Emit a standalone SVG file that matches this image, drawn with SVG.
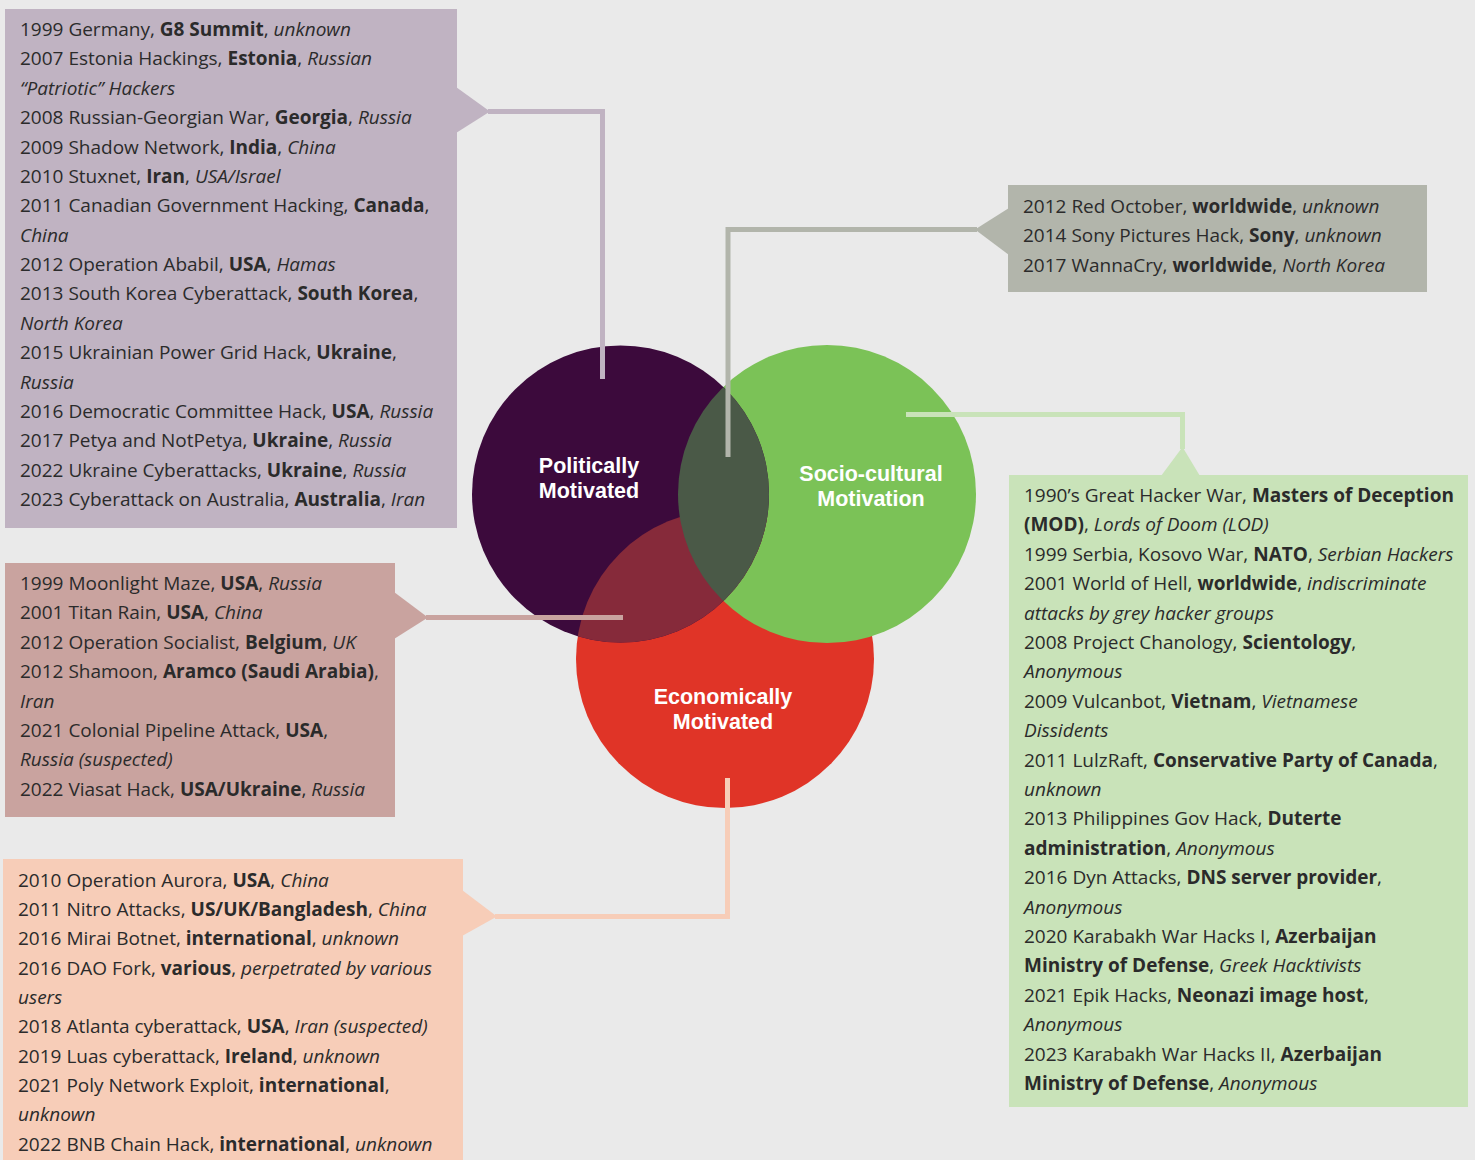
<svg xmlns="http://www.w3.org/2000/svg" width="1475" height="1160" viewBox="0 0 1475 1160">
<style>
  .t{font-family:"Open Sans","Noto Sans","DejaVu Sans",sans-serif;font-size:19px;fill:#2b2b2b}
  .b{font-weight:bold}
  .i{font-style:italic}
  .c{font-family:"Liberation Sans",Arial,sans-serif;font-size:21.5px;font-weight:bold;fill:#ffffff;text-anchor:middle}
  .ln{fill:none;stroke-width:5;stroke-linecap:butt;stroke-linejoin:miter}
</style>
<defs>
  <clipPath id="clipPol"><circle cx="620.5" cy="494" r="148.5"/></clipPath>
</defs>
<rect width="1475" height="1160" fill="#eaeaea"/>

<g id="venn">
  <circle id="econ" cx="725" cy="659" r="149" fill="#e03427"/>
  <circle id="socio" cx="827" cy="494" r="149" fill="#7bc257"/>
  <circle id="pol" cx="620.5" cy="494" r="148.5" fill="#3c0a3c"/>
  <g clip-path="url(#clipPol)">
    <circle cx="725" cy="659" r="149" fill="#862a3a"/>
    <circle cx="827" cy="494" r="149" fill="#4a5947"/>
  </g>
</g>

<g id="connectors">
  <polyline class="ln" stroke="#c0b3c2" points="488,111.5 602.5,111.5 602.5,379"/>
  <polyline class="ln" stroke="#b2b5ab" points="977,229.5 728,229.5 728,457"/>
  <polyline class="ln" stroke="#c9e3b9" points="906,414.5 1182.5,414.5 1182.5,449"/>
  <polyline class="ln" stroke="#c9a39f" points="426,617.5 623,617.5"/>
  <polyline class="ln" stroke="#f7cdb8" points="495,916.5 727.5,916.5 727.5,778"/>
</g>

<g id="circle-labels">
  <text class="c" x="589" y="473">Politically<tspan x="589" dy="25">Motivated</tspan></text>
  <text class="c" x="871" y="481">Socio-cultural<tspan x="871" dy="25">Motivation</tspan></text>
  <text class="c" x="723" y="704">Economically<tspan x="723" dy="25">Motivated</tspan></text>
</g>

<g id="political-box">
  <rect x="5" y="9" width="452" height="519" fill="#c0b3c2"/>
  <polygon points="456,87 490,111.5 456,133" fill="#c0b3c2"/>
  <g class="t">
    <text x="20" y="36">1999 Germany, <tspan class="b">G8 Summit</tspan>, <tspan class="i">unknown</tspan></text>
    <text x="20" y="65.4">2007 Estonia Hackings, <tspan class="b">Estonia</tspan>, <tspan class="i">Russian</tspan></text>
    <text x="20" y="94.8" class="i">“Patriotic” Hackers</text>
    <text x="20" y="124.1">2008 Russian-Georgian War, <tspan class="b">Georgia</tspan>, <tspan class="i">Russia</tspan></text>
    <text x="20" y="153.5">2009 Shadow Network, <tspan class="b">India</tspan>, <tspan class="i">China</tspan></text>
    <text x="20" y="182.9">2010 Stuxnet, <tspan class="b">Iran</tspan>, <tspan class="i">USA/Israel</tspan></text>
    <text x="20" y="212.3">2011 Canadian Government Hacking, <tspan class="b">Canada</tspan>,</text>
    <text x="20" y="241.6" class="i">China</text>
    <text x="20" y="271">2012 Operation Ababil, <tspan class="b">USA</tspan>, <tspan class="i">Hamas</tspan></text>
    <text x="20" y="300.4">2013 South Korea Cyberattack, <tspan class="b">South Korea</tspan>,</text>
    <text x="20" y="329.8" class="i">North Korea</text>
    <text x="20" y="359.1">2015 Ukrainian Power Grid Hack, <tspan class="b">Ukraine</tspan>,</text>
    <text x="20" y="388.5" class="i">Russia</text>
    <text x="20" y="417.9">2016 Democratic Committee Hack, <tspan class="b">USA</tspan>, <tspan class="i">Russia</tspan></text>
    <text x="20" y="447.3">2017 Petya and NotPetya, <tspan class="b">Ukraine</tspan>, <tspan class="i">Russia</tspan></text>
    <text x="20" y="476.6">2022 Ukraine Cyberattacks, <tspan class="b">Ukraine</tspan>, <tspan class="i">Russia</tspan></text>
    <text x="20" y="506">2023 Cyberattack on Australia, <tspan class="b">Australia</tspan>, <tspan class="i">Iran</tspan></text>
  </g>
</g>

<g id="socio-political-box">
  <rect x="1008" y="185" width="419" height="107" fill="#b2b5ab"/>
  <polygon points="1009,208 975,229.5 1009,255" fill="#b2b5ab"/>
  <g class="t">
    <text x="1023" y="213">2012 Red October, <tspan class="b">worldwide</tspan>, <tspan class="i">unknown</tspan></text>
    <text x="1023" y="242.3">2014 Sony Pictures Hack, <tspan class="b">Sony</tspan>, <tspan class="i">unknown</tspan></text>
    <text x="1023" y="271.6">2017 WannaCry, <tspan class="b">worldwide</tspan>, <tspan class="i">North Korea</tspan></text>
  </g>
</g>

<g id="socio-box">
  <rect x="1009" y="475" width="459" height="632" fill="#c9e3b9"/>
  <polygon points="1161,476 1182.5,447 1200,476" fill="#c9e3b9"/>
  <g class="t">
    <text x="1024" y="502">1990’s Great Hacker War, <tspan class="b">Masters of Deception</tspan></text>
    <text x="1024" y="531.4"><tspan class="b">(MOD)</tspan>, <tspan class="i">Lords of Doom (LOD)</tspan></text>
    <text x="1024" y="560.8">1999 Serbia, Kosovo War, <tspan class="b">NATO</tspan>, <tspan class="i">Serbian Hackers</tspan></text>
    <text x="1024" y="590.2">2001 World of Hell, <tspan class="b">worldwide</tspan>, <tspan class="i">indiscriminate</tspan></text>
    <text x="1024" y="619.6" class="i">attacks by grey hacker groups</text>
    <text x="1024" y="649">2008 Project Chanology, <tspan class="b">Scientology</tspan>,</text>
    <text x="1024" y="678.4" class="i">Anonymous</text>
    <text x="1024" y="707.8">2009 Vulcanbot, <tspan class="b">Vietnam</tspan>, <tspan class="i">Vietnamese</tspan></text>
    <text x="1024" y="737.2" class="i">Dissidents</text>
    <text x="1024" y="766.6">2011 LulzRaft, <tspan class="b">Conservative Party of Canada</tspan>,</text>
    <text x="1024" y="796" class="i">unknown</text>
    <text x="1024" y="825.4">2013 Philippines Gov Hack, <tspan class="b">Duterte</tspan></text>
    <text x="1024" y="854.8"><tspan class="b">administration</tspan>, <tspan class="i">Anonymous</tspan></text>
    <text x="1024" y="884.2">2016 Dyn Attacks, <tspan class="b">DNS server provider</tspan>,</text>
    <text x="1024" y="913.6" class="i">Anonymous</text>
    <text x="1024" y="943">2020 Karabakh War Hacks I, <tspan class="b">Azerbaijan</tspan></text>
    <text x="1024" y="972.4"><tspan class="b">Ministry of Defense</tspan>, <tspan class="i">Greek Hacktivists</tspan></text>
    <text x="1024" y="1001.8">2021 Epik Hacks, <tspan class="b">Neonazi image host</tspan>,</text>
    <text x="1024" y="1031.2" class="i">Anonymous</text>
    <text x="1024" y="1060.6">2023 Karabakh War Hacks II, <tspan class="b">Azerbaijan</tspan></text>
    <text x="1024" y="1090"><tspan class="b">Ministry of Defense</tspan>, <tspan class="i">Anonymous</tspan></text>
  </g>
</g>

<g id="political-economic-box">
  <rect x="5" y="563" width="390" height="254" fill="#c9a39f"/>
  <polygon points="394,592 428,617.5 394,639" fill="#c9a39f"/>
  <g class="t">
    <text x="20" y="590">1999 Moonlight Maze, <tspan class="b">USA</tspan>, <tspan class="i">Russia</tspan></text>
    <text x="20" y="619.4">2001 Titan Rain, <tspan class="b">USA</tspan>, <tspan class="i">China</tspan></text>
    <text x="20" y="648.8">2012 Operation Socialist, <tspan class="b">Belgium</tspan>, <tspan class="i">UK</tspan></text>
    <text x="20" y="678.2">2012 Shamoon, <tspan class="b">Aramco (Saudi Arabia)</tspan>,</text>
    <text x="20" y="707.6" class="i">Iran</text>
    <text x="20" y="737">2021 Colonial Pipeline Attack, <tspan class="b">USA</tspan>,</text>
    <text x="20" y="766.4" class="i">Russia (suspected)</text>
    <text x="20" y="795.8">2022 Viasat Hack, <tspan class="b">USA/Ukraine</tspan>, <tspan class="i">Russia</tspan></text>
  </g>
</g>

<g id="economic-box">
  <rect x="3" y="859" width="460" height="301" fill="#f7cdb8"/>
  <polygon points="462,890 497,916.5 462,936" fill="#f7cdb8"/>
  <g class="t">
    <text x="18" y="886.7">2010 Operation Aurora, <tspan class="b">USA</tspan>, <tspan class="i">China</tspan></text>
    <text x="18" y="916">2011 Nitro Attacks, <tspan class="b">US/UK/Bangladesh</tspan>, <tspan class="i">China</tspan></text>
    <text x="18" y="945.4">2016 Mirai Botnet, <tspan class="b">international</tspan>, <tspan class="i">unknown</tspan></text>
    <text x="18" y="974.7">2016 DAO Fork, <tspan class="b">various</tspan>, <tspan class="i">perpetrated by various</tspan></text>
    <text x="18" y="1004" class="i">users</text>
    <text x="18" y="1033.4">2018 Atlanta cyberattack, <tspan class="b">USA</tspan>, <tspan class="i">Iran (suspected)</tspan></text>
    <text x="18" y="1062.7">2019 Luas cyberattack, <tspan class="b">Ireland</tspan>, <tspan class="i">unknown</tspan></text>
    <text x="18" y="1092">2021 Poly Network Exploit, <tspan class="b">international</tspan>,</text>
    <text x="18" y="1121.4" class="i">unknown</text>
    <text x="18" y="1150.7">2022 BNB Chain Hack, <tspan class="b">international</tspan>, <tspan class="i">unknown</tspan></text>
  </g>
</g>
</svg>
